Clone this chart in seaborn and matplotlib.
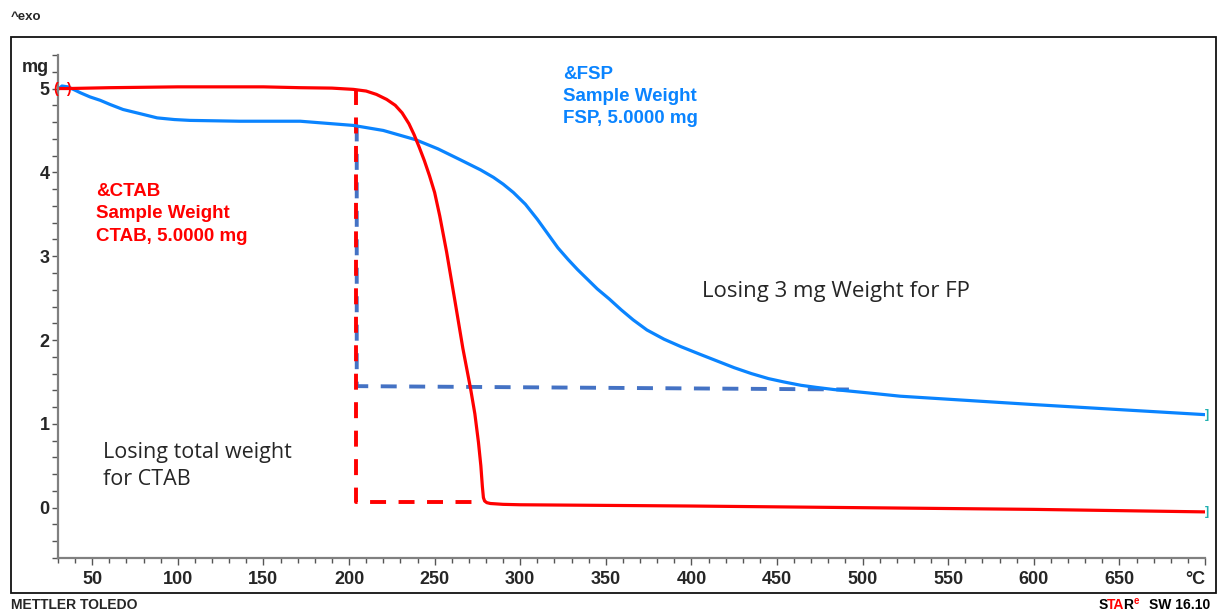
import matplotlib
matplotlib.use("Agg")
import matplotlib.pyplot as plt
from matplotlib.patches import Rectangle
from matplotlib.ticker import MultipleLocator
import pandas as pd
import seaborn as sns

# ---- data -------------------------------------------------------------
# FSP sample weight (mg) against temperature (°C)
fsp_temp = [30, 32.3, 35.8, 40, 43, 48.7, 54.6, 60.4, 68, 78, 87.9, 98,
            107, 136, 171.5, 202.5, 220, 238.8, 252, 265, 276.8, 284.4,
            290, 296, 303, 310, 316, 322, 328, 333.5, 339, 345, 352, 359,
            366, 374, 384, 394, 405, 415, 425, 435, 445, 454, 464, 473,
            483, 493, 503, 522, 557, 600, 650, 700]
fsp_weight = [4.99, 5.03, 5.02, 4.98, 4.95, 4.90, 4.86, 4.81, 4.75, 4.70,
              4.65, 4.63, 4.62, 4.61, 4.61, 4.56, 4.50, 4.39, 4.28, 4.15,
              4.03, 3.94, 3.86, 3.76, 3.62, 3.44, 3.27, 3.10, 2.96, 2.84,
              2.73, 2.61, 2.49, 2.36, 2.24, 2.12, 2.01, 1.92, 1.83, 1.75,
              1.67, 1.60, 1.54, 1.50, 1.46, 1.435, 1.41, 1.39, 1.37, 1.33,
              1.285, 1.23, 1.17, 1.11]

# CTAB sample weight (mg) against temperature (°C)
ctab_temp = [30, 36, 60, 100, 150, 171.5, 190, 202.5, 210, 216, 222, 227,
             231, 235, 238, 241, 244, 247, 250, 253, 257, 262, 266.5, 271,
             273.5, 275.6, 277, 277.9, 278.5, 279.2, 280.5, 282.6, 290, 300,
             400, 500, 600, 700]
ctab_weight = [5.0, 5.0, 5.01, 5.02, 5.02, 5.01, 5.005, 4.99, 4.97, 4.93,
               4.87, 4.80, 4.71, 4.58, 4.45, 4.30, 4.14, 3.96, 3.76, 3.48,
               3.05, 2.45, 1.90, 1.42, 1.12, 0.78, 0.50, 0.25, 0.12, 0.08,
               0.06, 0.05, 0.04, 0.035, 0.02, 0.0, -0.02, -0.05]

# Guide lines marking the weight loss of each sample
ctab_guide_temp = [204, 204, 278.5]
ctab_guide_weight = [5.0, 0.07, 0.07]
fsp_guide_temp = [204.5, 204.5, 492]
fsp_guide_weight = [4.56, 1.45, 1.41]

x_ticks = [50, 100, 150, 200, 250, 300, 350, 400, 450, 500, 550, 600, 650, 700]
x_tick_labels = ["50", "100", "150", "200", "250", "300", "350", "400",
                 "450", "500", "550", "600", "650", "°C"]
y_ticks = [0, 1, 2, 3, 4, 5]
y_tick_labels = ["0", "1", "2", "3", "4", "5"]

# ---- style ------------------------------------------------------------
sns.set_style("white")
plt.rcParams["font.family"] = ["Liberation Sans", "DejaVu Sans"]

BLUE = "#0A84FF"
RED = "#FF0000"
GUIDE_BLUE = "#4472C4"
TEAL = "#22B0B0"
AXIS_GREY = "#808080"
NOTE_FONT = ["Open Sans", "DejaVu Sans"]

W, H = 1226, 612
fig = plt.figure(figsize=(W / 100, H / 100), dpi=100)
fig.patch.set_facecolor("white")


def fx(px):
    return px / W


def fy(py):
    return 1 - py / H


# outer frame
fig.patches.append(Rectangle((fx(11), fy(593)), fx(1216) - fx(11), fy(37) - fy(593),
                             transform=fig.transFigure, fill=False,
                             edgecolor="#111111", linewidth=1.3))

ax = fig.add_axes([fx(58), fy(558), fx(1205) - fx(58), fy(55) - fy(558)])
ax.set_facecolor("white")

fsp = pd.DataFrame({"temp": fsp_temp, "weight": fsp_weight})
ctab = pd.DataFrame({"temp": ctab_temp, "weight": ctab_weight})

# dashed guides: ~16 px dashes with ~12 px gaps
guide_lw = 2.8
dash_pts = (11.5 / guide_lw, 9.0 / guide_lw)
for gt, gw, gc in ((fsp_guide_temp, fsp_guide_weight, GUIDE_BLUE),
                   (ctab_guide_temp, ctab_guide_weight, RED)):
    (gl,) = ax.plot(gt, gw, color=gc, linewidth=guide_lw)
    gl.set_dashes(dash_pts)
    gl.set_dash_capstyle("butt")

# weight curves
sns.lineplot(data=fsp, x="temp", y="weight", sort=False, estimator=None,
             color=BLUE, linewidth=2.3, ax=ax)
sns.lineplot(data=ctab, x="temp", y="weight", sort=False, estimator=None,
             color=RED, linewidth=2.3, ax=ax)
for ln in ax.lines[2:]:
    ln.set_solid_joinstyle("round")

# curve start / end brackets
ax.text(ctab_temp[0], ctab_weight[0], "(", color=RED, fontsize=10, fontweight="bold",
        ha="right", va="center", clip_on=False)
ax.text(ctab_temp[1], ctab_weight[1], ")", color=RED, fontsize=10, fontweight="bold",
        ha="center", va="center", clip_on=False)
ax.text(fsp_temp[-1], fsp_weight[-1], "]", color=TEAL, fontsize=9, fontweight="bold",
        ha="left", va="center", clip_on=False)
ax.text(ctab_temp[-1], ctab_weight[-1], "]", color=TEAL, fontsize=9, fontweight="bold",
        ha="left", va="center", clip_on=False)

# axes
ax.set_xlim(30, 700)
ax.set_ylim(-0.6, 5.4)
ax.set_xlabel("")
ax.set_ylabel("")
ax.set_xticks(x_ticks)
ax.set_xticklabels(x_tick_labels, fontsize=13, fontweight="bold")
ax.get_xticklabels()[-1].set_horizontalalignment("right")
ax.set_yticks(y_ticks)
ax.set_yticklabels(y_tick_labels, fontsize=13, fontweight="bold")
ax.xaxis.set_minor_locator(MultipleLocator(10))
ax.yaxis.set_minor_locator(MultipleLocator(0.2))
ax.tick_params(axis="x", which="major", direction="out", length=5, width=1.0,
               color="#555555", pad=4, bottom=True)
ax.tick_params(axis="x", which="minor", direction="out", length=3.5, width=1.0,
               color="#555555", bottom=True)
ax.tick_params(axis="y", which="both", direction="out", length=4, width=1.0,
               color="#555555", pad=2, left=True)
for side in ("top", "right"):
    ax.spines[side].set_visible(False)
for side in ("left", "bottom"):
    ax.spines[side].set_color(AXIS_GREY)
    ax.spines[side].set_linewidth(1.6)

fig.text(fx(22), fy(67), "mg", fontsize=13, fontweight="bold", ha="left", va="center")

# sample labels
ax.text(325, 5.27, "&FSP\nSample Weight\nFSP, 5.0000 mg", color=BLUE,
        fontsize=13.5, fontweight="bold", ha="left", va="top", linespacing=1.4)
ax.text(52.2, 3.87, "&CTAB\nSample Weight\nCTAB, 5.0000 mg", color=RED,
        fontsize=13.5, fontweight="bold", ha="left", va="top", linespacing=1.4)

# notes
ax.text(406, 2.58, "Losing 3 mg Weight for FP", fontsize=16,
        family=NOTE_FONT, ha="left", va="center")
ax.text(56.3, 0.50, "Losing total weight\nfor CTAB", fontsize=15.5,
        family=NOTE_FONT, ha="left", va="center", linespacing=1.35)

# page header / footer
fig.text(fx(11), fy(17), "^exo", fontsize=9.5, fontweight="bold", ha="left", va="center")
fig.text(fx(11), fy(605), "METTLER TOLEDO", fontsize=10, fontweight="bold",
         ha="left", va="center")

# STARe SW 16.10 logo, pieces laid out side by side from measured widths
renderer = fig.canvas.get_renderer()
logo = dict(fontsize=10, fontweight="bold", ha="left", va="baseline")
base_y = fy(609)
x0 = 1099.0


def text_width(s, size=10):
    t = fig.text(0, 0, s, fontsize=size, fontweight="bold")
    w = t.get_window_extent(renderer).width
    t.remove()
    return w


# (piece, prefix ending with the piece, colour, tightening in px)
for piece, prefix, col, kern in (("S", "S", "black", 0.0),
                                  ("TA", "STA", RED, -1.2),
                                  ("R", "STAR", "black", -2.2)):
    px = x0 + text_width(prefix) - text_width(piece) + kern
    fig.text(fx(px), base_y, piece, color=col, **logo)
x_e = x0 + text_width("STAR") - 1.5
fig.text(fx(x_e), fy(604), "e", color=RED, fontsize=7, fontweight="bold",
         ha="left", va="baseline")
fig.text(fx(1149), base_y, "SW 16.10", color="black", **logo)

fig.savefig("out.png", dpi=100, facecolor="white")
